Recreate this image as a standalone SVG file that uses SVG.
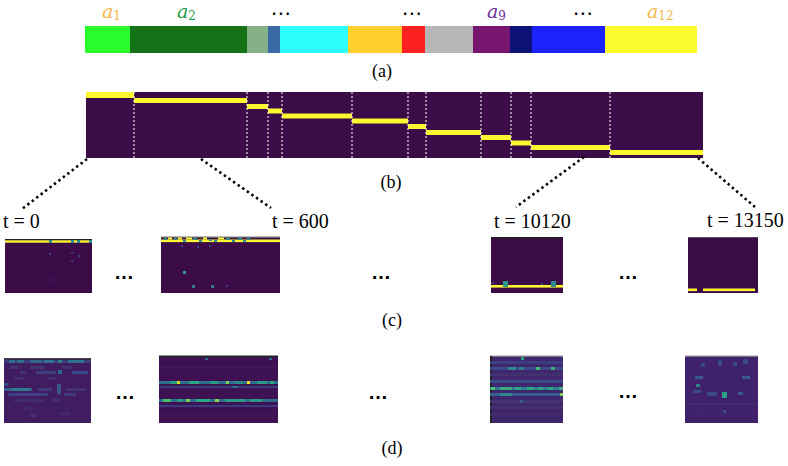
<svg xmlns="http://www.w3.org/2000/svg" width="788" height="466" viewBox="0 0 788 466">
<style>
.lbl{font-family:"Liberation Serif","Times New Roman",serif;font-size:18px;fill:#000;text-anchor:middle}
.t{font-family:"Liberation Serif","Times New Roman",serif;font-size:20px;fill:#000}
.av{font-family:"DejaVu Serif",serif;font-style:italic;font-size:19px}
.sub{font-style:normal;font-size:12px}
.ell{font-family:"DejaVu Sans",sans-serif;font-size:20px;fill:#000;text-anchor:middle}
.dots{font-family:"Liberation Sans",Arial,sans-serif;font-weight:bold;font-size:20px;fill:#000;text-anchor:middle}
.y{fill:#fbf630}
.bg{fill:#3c0c48}
.sep{stroke:#ffffff;stroke-width:1.2;stroke-dasharray:2 2;opacity:0.85}
.conn{stroke:#000;stroke-width:2.6;stroke-dasharray:2.4 3.2;fill:none}
.tl{fill:#2e8a8c}
</style>

<g id="bar-a">
  <rect x="85" y="26" width="45" height="27" fill="#2bfc2c"/>
  <rect x="130" y="26" width="117" height="27" fill="#167216"/>
  <rect x="247" y="26" width="21" height="27" fill="#86b186"/>
  <rect x="268" y="26" width="12" height="27" fill="#3b6aa6"/>
  <rect x="280" y="26" width="68" height="27" fill="#2dfdfd"/>
  <rect x="348" y="26" width="54" height="27" fill="#fdd02e"/>
  <rect x="402" y="26" width="23" height="27" fill="#fd2020"/>
  <rect x="425" y="26" width="48" height="27" fill="#b6b6b6"/>
  <rect x="473" y="26" width="37" height="27" fill="#76166e"/>
  <rect x="510" y="26" width="22" height="27" fill="#0d1277"/>
  <rect x="532" y="26" width="73" height="27" fill="#1c22fd"/>
  <rect x="605" y="26" width="92" height="27" fill="#fdfc2e"/>
  <text class="av" x="102" y="18" fill="#f7b64a">a<tspan class="sub" dy="2">1</tspan></text>
  <text class="av" x="177" y="18" fill="#1f9e4a">a<tspan class="sub" dy="2">2</tspan></text>
  <text class="av" x="487" y="18" fill="#6a2e98">a<tspan class="sub" dy="2">9</tspan></text>
  <text class="av" x="647" y="18" fill="#f7b64a">a<tspan class="sub" dy="2">12</tspan></text>
  <text class="ell" x="281" y="20">⋯</text>
  <text class="ell" x="412" y="20">⋯</text>
  <text class="ell" x="583" y="20">⋯</text>
  <text class="lbl" x="382" y="77">(a)</text>
</g>

<g id="heatmap-b">
  <rect class="bg" x="86" y="92" width="617" height="66"/>
  <rect class="y" x="86" y="92" width="48" height="6"/>
  <rect class="y" x="134" y="98" width="113" height="5"/>
  <rect class="y" x="247" y="104" width="21" height="5"/>
  <rect class="y" x="268" y="108.5" width="14" height="5"/>
  <rect class="y" x="282" y="113.5" width="70" height="5"/>
  <rect class="y" x="352" y="118.5" width="56" height="5"/>
  <rect class="y" x="408" y="124" width="18" height="5"/>
  <rect class="y" x="426" y="130" width="55" height="5"/>
  <rect class="y" x="481" y="135" width="30" height="5"/>
  <rect class="y" x="511" y="140.5" width="20" height="5"/>
  <rect class="y" x="531" y="145" width="79" height="5"/>
  <rect class="y" x="610" y="150" width="93" height="5"/>
  <line class="sep" x1="134" y1="92" x2="134" y2="158"/>
  <line class="sep" x1="247" y1="92" x2="247" y2="158"/>
  <line class="sep" x1="268" y1="92" x2="268" y2="158"/>
  <line class="sep" x1="282" y1="92" x2="282" y2="158"/>
  <line class="sep" x1="352" y1="92" x2="352" y2="158"/>
  <line class="sep" x1="408" y1="92" x2="408" y2="158"/>
  <line class="sep" x1="426" y1="92" x2="426" y2="158"/>
  <line class="sep" x1="481" y1="92" x2="481" y2="158"/>
  <line class="sep" x1="511" y1="92" x2="511" y2="158"/>
  <line class="sep" x1="531" y1="92" x2="531" y2="158"/>
  <line class="sep" x1="610" y1="92" x2="610" y2="158"/>
  <text class="lbl" x="391" y="188">(b)</text>
</g>

<g id="connectors">
  <line class="conn" x1="87" y1="159" x2="22" y2="209"/>
  <line class="conn" x1="201" y1="159" x2="271" y2="208"/>
  <line class="conn" x1="584" y1="157" x2="516" y2="207"/>
  <line class="conn" x1="698" y1="158" x2="755" y2="207"/>
</g>

<g id="time-labels">
  <text class="t" x="3" y="228">t = 0</text>
  <text class="t" x="272" y="228">t = 600</text>
  <text class="t" x="494" y="228">t = 10120</text>
  <text class="t" x="707" y="227">t = 13150</text>
</g>

<g id="panel-c1">
  <rect class="bg" x="5" y="239" width="87" height="54"/>
  <rect x="5" y="239" width="87" height="1.3" fill="#222"/>
  <rect class="y" x="5" y="240.3" width="87" height="2.4"/>
  <rect class="tl" x="49" y="240" width="3" height="3"/>
  <rect class="tl" x="71" y="240" width="3" height="3"/>
  <rect class="tl" x="77" y="240" width="3" height="3"/>
  <rect class="tl" x="89" y="240" width="3" height="3"/>
  <rect x="49" y="253" width="2" height="2" fill="#3a3f80"/>
  <rect x="71" y="252" width="2" height="2" fill="#3a3f80"/>
  <rect x="78" y="255" width="2" height="2" fill="#3a3f80"/>
  <rect x="71" y="260" width="2" height="2" fill="#3a3f80"/>
  <rect x="50" y="279" width="2" height="2" fill="#3a2f6e"/>
</g>
<text class="dots" x="124" y="279">…</text>

<g id="panel-c2">
  <rect class="bg" x="161" y="237" width="119" height="56"/>
  <rect x="161" y="236.5" width="119" height="1.3" fill="#777"/>
  <rect class="y" x="161" y="239.5" width="119" height="2.6"/>
  <rect class="tl" x="164" y="238" width="3" height="2"/>
  <rect class="y" x="168" y="237.5" width="4" height="2"/>
  <rect class="tl" x="174" y="238" width="3" height="2"/>
  <rect class="y" x="178" y="237.5" width="4" height="2"/>
  <rect class="tl" x="183" y="240" width="3" height="2"/>
  <rect class="y" x="186" y="237.5" width="6" height="2"/>
  <rect class="tl" x="193" y="238" width="4" height="2"/>
  <rect class="tl" x="199" y="240" width="3" height="2"/>
  <rect class="y" x="203" y="237.5" width="4" height="2"/>
  <rect class="tl" x="209" y="239" width="3" height="2"/>
  <rect class="tl" x="214" y="240" width="3" height="2"/>
  <rect class="y" x="218" y="237.5" width="6" height="2"/>
  <rect class="tl" x="226" y="238" width="4" height="2"/>
  <rect class="tl" x="232" y="240" width="3" height="2"/>
  <rect class="tl" x="238" y="238" width="4" height="2"/>
  <rect class="tl" x="243" y="240" width="3" height="2"/>
  <rect class="tl" x="247" y="238" width="3" height="2"/>
  <rect x="181" y="245" width="2" height="2" fill="#3a3f80"/>
  <rect x="197" y="246" width="2" height="2" fill="#3a3f80"/>
  <rect x="209" y="245" width="2" height="2" fill="#3a3f80"/>
  <rect x="183" y="271" width="3" height="3" fill="#2a9a88"/>
  <rect x="192" y="285" width="3" height="3" fill="#2e7c8c"/>
  <rect x="211" y="285" width="3" height="3" fill="#2e7c8c"/>
  <rect x="226" y="285" width="2" height="2" fill="#3a3f80"/>
</g>
<text class="dots" x="381" y="279">…</text>

<g id="panel-c3">
  <rect class="bg" x="491" y="237" width="72" height="56"/>
  <rect x="491" y="237" width="72" height="1.6" fill="#222"/>
  <rect class="y" x="491" y="285" width="72" height="2.6"/>
  <rect x="503" y="281" width="5" height="6" fill="#2e9a8a"/>
  <rect x="551" y="281" width="5" height="6" fill="#2e8a8c"/>
  <rect x="492" y="282" width="2" height="2" fill="#3a3f80"/>
  <rect x="541" y="283" width="2" height="2" fill="#3a3f80"/>
</g>
<text class="dots" x="628" y="279">…</text>

<g id="panel-c4">
  <rect class="bg" x="688" y="237" width="70" height="56"/>
  <rect x="688" y="237" width="70" height="1" fill="#555"/>
  <rect class="y" x="688" y="288.5" width="9" height="2.6"/>
  <rect class="y" x="703" y="288.5" width="52" height="2.6"/>
</g>

<text class="lbl" x="392" y="326">(c)</text>

<g id="panel-d1">
  <rect x="4" y="359" width="87" height="64" fill="#3f1d60"/>
  <rect x="4" y="358" width="87" height="1.2" fill="#444"/>
  <rect x="4" y="360" width="87" height="3" fill="#3a3d7e"/>
  <rect x="9" y="360" width="6" height="3" fill="#2f6f8e"/>
  <rect x="17" y="360" width="7" height="3" fill="#2f6f8e"/>
  <rect x="30" y="360" width="12" height="3" fill="#33678e"/>
  <rect x="44" y="360" width="10" height="3" fill="#2f728e"/>
  <rect x="58" y="360" width="4" height="3" fill="#2e808c"/>
  <rect x="68" y="360" width="16" height="3" fill="#2f728e"/>
  <rect x="10" y="366" width="8" height="3" fill="#433170"/>
  <rect x="30" y="366" width="14" height="3" fill="#40386e"/>
  <rect x="62" y="366" width="10" height="3" fill="#433170"/>
  <rect x="20" y="371" width="6" height="3" fill="#433573"/>
  <rect x="36" y="371" width="20" height="3" fill="#3f3f80"/>
  <rect x="58" y="370" width="4" height="4" fill="#2f6a8e"/>
  <rect x="72" y="371" width="16" height="3" fill="#3b4a88"/>
  <rect x="14" y="377" width="10" height="3" fill="#432d6c"/>
  <rect x="48" y="377" width="8" height="3" fill="#432d6c"/>
  <rect x="4" y="383" width="4" height="3" fill="#3b4a88"/>
  <rect x="4" y="388" width="28" height="3" fill="#36608c"/>
  <rect x="12" y="388" width="18" height="3" fill="#2e7a8e"/>
  <rect x="38" y="388" width="14" height="3" fill="#413a7e"/>
  <rect x="57" y="384" width="4" height="10" fill="#3a5486"/>
  <rect x="66" y="388" width="20" height="3" fill="#433474"/>
  <rect x="8" y="393" width="40" height="3" fill="#3f3f84"/>
  <rect x="64" y="393" width="12" height="3" fill="#413a7e"/>
  <rect x="14" y="399" width="30" height="3" fill="#432c6e"/>
  <rect x="52" y="399" width="8" height="3" fill="#433170"/>
  <rect x="24" y="407" width="10" height="3" fill="#42296a"/>
  <rect x="30" y="414" width="6" height="3" fill="#433170"/>
  <rect x="60" y="412" width="10" height="3" fill="#42296a"/>
</g>
<text class="dots" x="125" y="399">…</text>

<g id="panel-d2">
  <rect x="159" y="356" width="119" height="67" fill="#3e1152"/>
  <rect x="159" y="355.5" width="119" height="1.6" fill="#222"/>
  <rect x="205" y="358" width="3" height="2" fill="#2e6f8e"/>
  <rect x="269" y="358" width="3" height="2" fill="#2e6f8e"/>
  <rect x="159" y="381" width="119" height="3" fill="#2e6f8e"/>
  <rect x="170" y="381" width="8" height="3" fill="#2a9a88"/>
  <rect x="177" y="381" width="3" height="3" fill="#c8e020"/>
  <rect x="189" y="381" width="10" height="3" fill="#2aa884"/>
  <rect x="210" y="381" width="8" height="3" fill="#2a9a88"/>
  <rect x="226" y="381" width="3" height="3" fill="#7ad151"/>
  <rect x="235" y="381" width="8" height="3" fill="#2a8a8c"/>
  <rect x="247" y="381" width="3" height="3" fill="#f8e020"/>
  <rect x="257" y="381" width="10" height="3" fill="#2a9a88"/>
  <rect x="270" y="381" width="4" height="3" fill="#2aa884"/>
  <rect x="159" y="386" width="119" height="2" fill="#3a3a80"/>
  <rect x="232" y="386" width="6" height="2" fill="#2e6f8e"/>
  <rect x="159" y="399" width="119" height="3" fill="#2e6f8e"/>
  <rect x="163" y="399" width="8" height="3" fill="#44bf70"/>
  <rect x="177" y="399" width="6" height="3" fill="#2a9a88"/>
  <rect x="186" y="399" width="4" height="3" fill="#7ad151"/>
  <rect x="196" y="399" width="14" height="3" fill="#2aa884"/>
  <rect x="215" y="399" width="4" height="3" fill="#8ad148"/>
  <rect x="225" y="399" width="20" height="3" fill="#2a9a88"/>
  <rect x="250" y="399" width="12" height="3" fill="#2a9a88"/>
  <rect x="159" y="405" width="119" height="2" fill="#3a3a80"/>
  <rect x="159" y="366" width="119" height="2" fill="#42175a"/>
  <rect x="159" y="413" width="119" height="2" fill="#42175a"/>
</g>
<text class="dots" x="378" y="399">…</text>

<g id="panel-d3">
  <rect x="490" y="356" width="73" height="67" fill="#40266c"/>
  <rect x="490" y="355.5" width="73" height="1.2" fill="#999"/>
  <rect x="490" y="356" width="2" height="67" fill="#222"/>
  <rect x="521" y="357" width="3" height="3" fill="#2aa884"/>
  <rect x="490" y="361" width="73" height="3" fill="#3a3f82"/>
  <rect x="490" y="367" width="73" height="3" fill="#3b4a88"/>
  <rect x="508" y="367" width="8" height="3" fill="#2e8a8c"/>
  <rect x="519" y="367" width="5" height="3" fill="#2e7f8e"/>
  <rect x="536" y="367" width="4" height="3" fill="#44bf70"/>
  <rect x="551" y="367" width="4" height="3" fill="#3aae7c"/>
  <rect x="490" y="373" width="73" height="3" fill="#43306e"/>
  <rect x="490" y="380" width="73" height="3" fill="#3a4a88"/>
  <rect x="490" y="387" width="73" height="3" fill="#2e7f8e"/>
  <rect x="491" y="387" width="4" height="3" fill="#44bf70"/>
  <rect x="500" y="387" width="12" height="3" fill="#3aae7c"/>
  <rect x="515" y="387" width="6" height="3" fill="#2aa884"/>
  <rect x="527" y="387" width="7" height="3" fill="#2aa884"/>
  <rect x="538" y="387" width="5" height="3" fill="#2aa884"/>
  <rect x="548" y="387" width="5" height="3" fill="#2aa884"/>
  <rect x="559" y="387" width="4" height="3" fill="#3aae7c"/>
  <rect x="490" y="393" width="73" height="3" fill="#355f8d"/>
  <rect x="500" y="393" width="12" height="3" fill="#2a8a8c"/>
  <rect x="560" y="393" width="3" height="3" fill="#7ad151"/>
  <rect x="490" y="400" width="73" height="3" fill="#433572"/>
  <rect x="520" y="400" width="3" height="3" fill="#3a5a8c"/>
  <rect x="490" y="406" width="73" height="3" fill="#43306e"/>
  <rect x="490" y="413" width="73" height="3" fill="#422a6a"/>
</g>
<text class="dots" x="628" y="398">…</text>

<g id="panel-d4">
  <rect x="685" y="356" width="73" height="67" fill="#40226a"/>
  <rect x="685" y="355.5" width="73" height="1.2" fill="#999"/>
  <rect x="701" y="363" width="4" height="4" fill="#3a4a88"/>
  <rect x="718" y="360" width="4" height="6" fill="#3a4a88"/>
  <rect x="733" y="362" width="4" height="4" fill="#3a4a88"/>
  <rect x="743" y="359" width="5" height="5" fill="#3a4a88"/>
  <rect x="695" y="376" width="8" height="3" fill="#3a5a8c"/>
  <rect x="742" y="376" width="8" height="3" fill="#3a5a8c"/>
  <rect x="696" y="384" width="4" height="3" fill="#2e7f8e"/>
  <rect x="693" y="390" width="8" height="3" fill="#3a4a88"/>
  <rect x="707" y="392" width="10" height="4" fill="#3a4a88"/>
  <rect x="722" y="392" width="5" height="6" fill="#2aa086"/>
  <rect x="738" y="392" width="5" height="3" fill="#3a5a8c"/>
  <rect x="685" y="403" width="73" height="2" fill="#432a6c"/>
  <rect x="723" y="410" width="3" height="3" fill="#3a4a88"/>
  <rect x="697" y="412" width="3" height="2" fill="#43306e"/>
</g>

<text class="lbl" x="392" y="454">(d)</text>
</svg>
